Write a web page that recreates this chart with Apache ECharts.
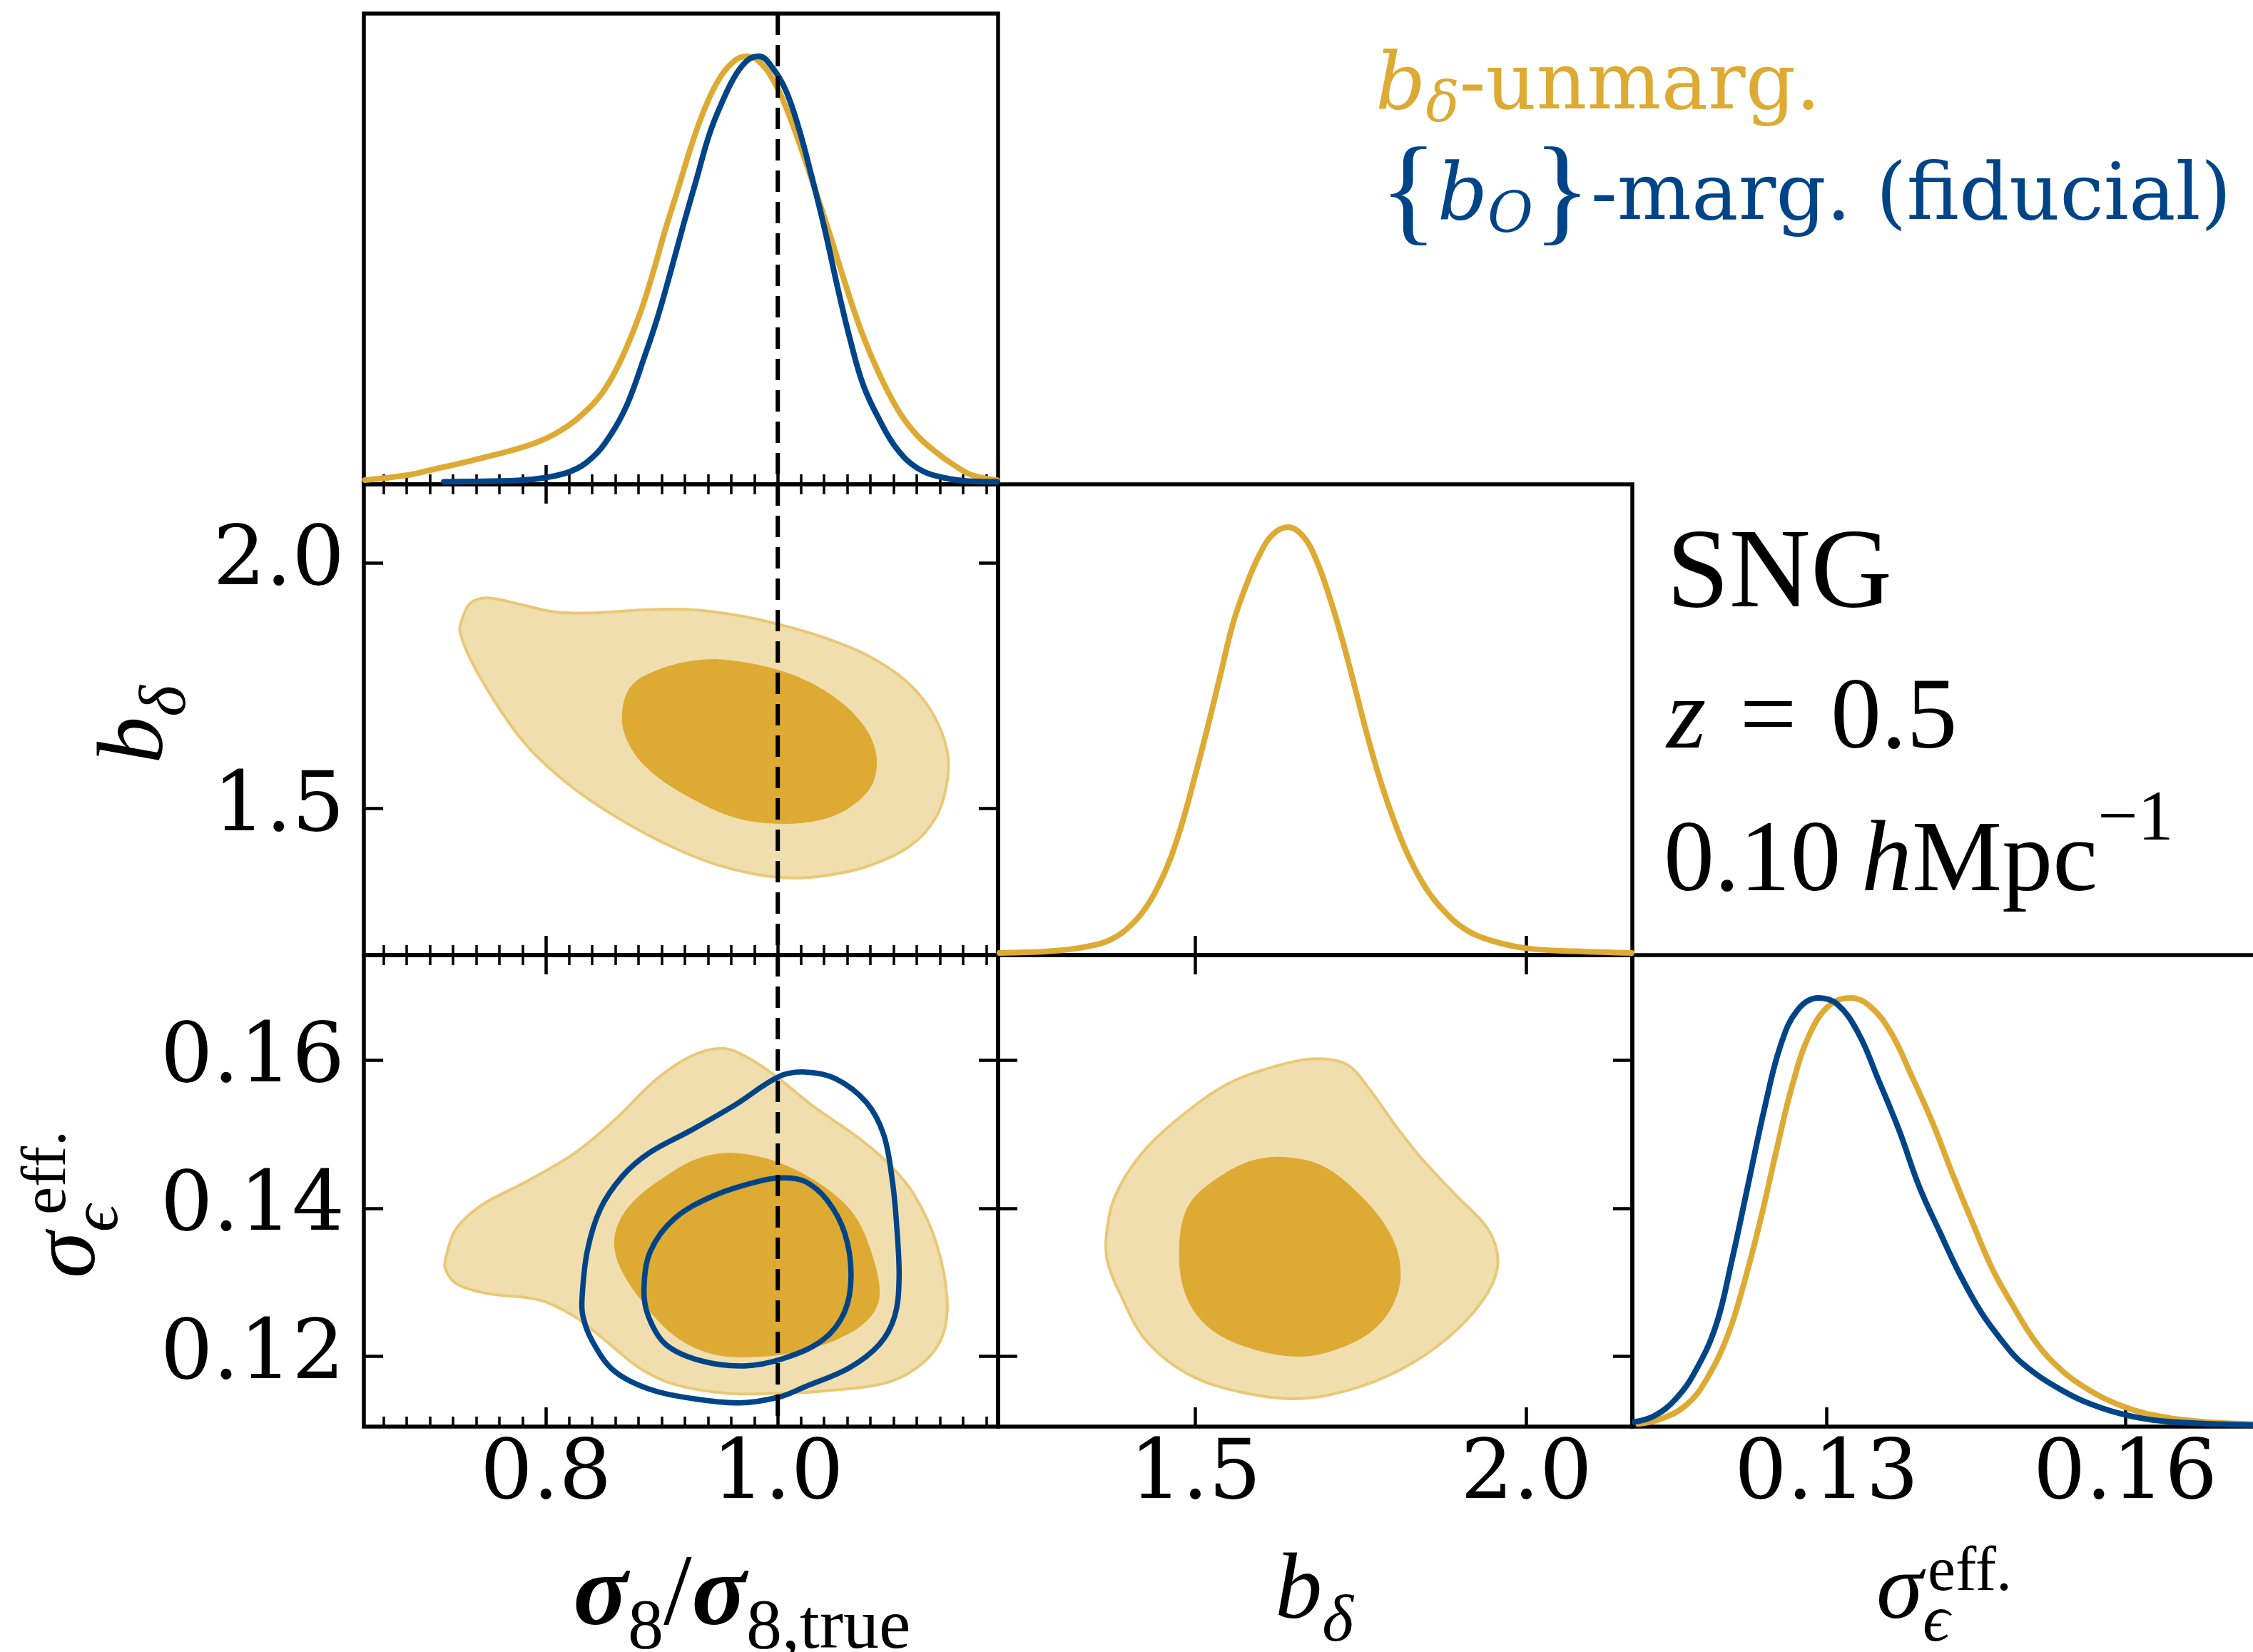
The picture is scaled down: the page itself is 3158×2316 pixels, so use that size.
<!DOCTYPE html>
<html>
<head>
<meta charset="utf-8">
<title>SNG corner plot</title>
<script src="https://cdn.jsdelivr.net/npm/echarts@6/dist/echarts.min.js"></script>
<style>
  html, body { margin: 0; padding: 0; background: #ffffff; }
  #chart { width: 3158px; height: 2316px; }
</style>
</head>
<body>
<div id="chart"></div>
<script>
// ---------------- colours ----------------
const GOLD = '#DDAA33';
const GOLD_LIGHT = '#F1DEAE';
const GOLD_EDGE = '#E9C877';
const BLUE = '#004488';

// ---------------- parameter ranges ----------------
const sigma8Range = [0.643, 1.190];
const bDeltaRange = [1.202, 2.160];
const sigmaEpsRange = [0.1105, 0.1742];
const densityRange = [0, 1.1];
const sigma8True = 1.0;

// ---------------- tick values ----------------
const sigma8Ticks = [0.8, 1.0];
const sigma8MinorTicks = [0.66, 0.68, 0.70, 0.72, 0.74, 0.76, 0.78, 0.82, 0.84, 0.86, 0.88, 0.90,
  0.92, 0.94, 0.96, 0.98, 1.02, 1.04, 1.06, 1.08, 1.10, 1.12, 1.14, 1.16, 1.18];
const bDeltaTicks = [1.5, 2.0];
const sigmaEpsTicksY = [0.12, 0.14, 0.16];
const sigmaEpsTicksX = [0.13, 0.16];

// ---------------- 1D marginals (peak normalised to 1) ----------------
const sigma8Unmarg = [[0.644,0.010],[0.682,0.022],[0.700,0.033],[0.738,0.057],[0.787,0.093],[0.813,0.126],
  [0.836,0.175],[0.851,0.223],[0.866,0.298],[0.881,0.398],[0.892,0.491],[0.903,0.595],[0.915,0.699],
  [0.926,0.796],[0.937,0.878],[0.949,0.945],[0.962,0.988],[0.973,1.000],[0.984,0.988],[0.997,0.940],
  [1.009,0.868],[1.020,0.786],[1.031,0.698],[1.043,0.600],[1.054,0.505],[1.065,0.412],[1.076,0.330],
  [1.091,0.238],[1.106,0.164],[1.121,0.112],[1.137,0.074],[1.152,0.045],[1.167,0.022],[1.189,0.010]];
const sigma8Marg = [[0.712,0.006],[0.776,0.009],[0.798,0.015],[0.821,0.030],[0.839,0.060],[0.855,0.112],
  [0.870,0.186],[0.885,0.298],[0.896,0.387],[0.907,0.491],[0.919,0.610],[0.930,0.714],[0.941,0.818],
  [0.952,0.893],[0.964,0.958],[0.975,0.993],[0.984,1.000],[0.995,0.975],[1.007,0.920],[1.018,0.833],
  [1.029,0.722],[1.041,0.590],[1.052,0.455],[1.063,0.332],[1.074,0.230],[1.088,0.149],[1.103,0.082],
  [1.121,0.037],[1.144,0.015],[1.167,0.007],[1.189,0.006]];
const bDeltaUnmarg = [[1.204,0.005],[1.280,0.009],[1.333,0.019],[1.373,0.037],[1.406,0.075],[1.432,0.127],
  [1.458,0.209],[1.478,0.298],[1.498,0.410],[1.518,0.529],[1.538,0.656],[1.557,0.776],[1.577,0.865],
  [1.597,0.936],[1.617,0.983],[1.640,1.000],[1.663,0.978],[1.683,0.922],[1.703,0.835],[1.723,0.731],
  [1.742,0.619],[1.762,0.500],[1.782,0.395],[1.802,0.306],[1.822,0.231],[1.848,0.157],[1.875,0.104],
  [1.908,0.060],[1.947,0.034],[2.000,0.016],[2.073,0.009],[2.159,0.005]];
const sigmaEpsUnmarg = [[0.1111,0.006],[0.1135,0.019],[0.1160,0.052],[0.1180,0.112],[0.1201,0.214],
  [0.1217,0.333],[0.1234,0.485],[0.1250,0.647],[0.1266,0.799],[0.1283,0.915],[0.1303,0.983],[0.1324,1.000],
  [0.1344,0.980],[0.1365,0.918],[0.1385,0.821],[0.1406,0.712],[0.1426,0.593],[0.1447,0.474],[0.1467,0.366],
  [0.1488,0.279],[0.1508,0.204],[0.1528,0.149],[0.1557,0.095],[0.1598,0.047],[0.1639,0.022],[0.1680,0.011],
  [0.1742,0.005]];
const sigmaEpsMarg = [[0.1107,0.011],[0.1127,0.025],[0.1148,0.063],[0.1168,0.128],[0.1189,0.236],
  [0.1205,0.388],[0.1221,0.561],[0.1238,0.745],[0.1254,0.890],[0.1271,0.972],[0.1292,1.000],
  [0.1311,0.985],[0.1332,0.918],[0.1352,0.810],[0.1373,0.691],[0.1393,0.561],[0.1414,0.453],[0.1434,0.355],
  [0.1455,0.268],[0.1475,0.204],[0.1496,0.149],[0.1537,0.084],[0.1577,0.043],[0.1618,0.019],[0.1659,0.009],
  [0.1742,0.003]];

// ---------------- 2D credible contours (68% inner, 95% outer) ----------------
// sigma8 vs b_delta, b_delta unmarginalised
const s8bdOuter = [[0.7267,1.878],[0.7343,1.917],[0.749,1.929],[0.7756,1.917],[0.8056,1.901],[0.8357,1.898],
  [0.8884,1.905],[0.926,1.905],[0.9636,1.894],[1.0012,1.875],[1.0388,1.849],[1.0764,1.813],[1.110,1.761],
  [1.1328,1.697],[1.146,1.619],[1.146,1.554],[1.1365,1.483],[1.114,1.424],[1.0764,1.382],[1.0388,1.363],
  [1.0124,1.359],[0.9824,1.366],[0.9448,1.388],[0.9072,1.424],[0.8658,1.476],[0.8282,1.534],[0.7981,1.593],
  [0.7756,1.651],[0.753,1.729],[0.7343,1.807],[0.726,1.859]];
const s8bdInner = [[0.8658,1.684],[0.8733,1.748],[0.8959,1.781],[0.926,1.800],[0.956,1.802],[1.0012,1.781],
  [1.0388,1.742],[1.0688,1.684],[1.0839,1.619],[1.082,1.554],[1.0651,1.508],[1.0388,1.479],[1.0012,1.470],
  [0.9636,1.482],[0.926,1.521],[0.8921,1.573],[0.8733,1.625]];

// sigma8 vs sigma_eps, b_delta unmarginalised (filled)
const s8seGoldOuter = [[0.7135,0.1332],[0.7229,0.1373],[0.7455,0.1405],[0.7831,0.1436],[0.8244,0.1474],
  [0.8583,0.1518],[0.8959,0.1575],[0.926,0.1606],[0.9523,0.1616],[0.9748,0.1603],[1.0012,0.1575],
  [1.0312,0.1537],[1.0688,0.1496],[1.0952,0.1461],[1.1177,0.1418],[1.1365,0.1354],[1.146,0.1279],
  [1.1422,0.1228],[1.1252,0.1191],[1.0952,0.1165],[1.0388,0.1153],[1.0012,0.1150],[0.956,0.1150],
  [0.9109,0.1162],[0.8808,0.1184],[0.8508,0.1222],[0.8244,0.1254],[0.7944,0.1276],[0.7493,0.1285],
  [0.7229,0.1298],[0.7135,0.1317]];
const s8seGoldInner = [[0.8602,0.1367],[0.8733,0.1405],[0.9034,0.1443],[0.9335,0.1468],[0.9636,0.1474],
  [1.0012,0.1461],[1.0388,0.1430],[1.0651,0.1392],[1.0801,0.1342],[1.0876,0.1285],[1.0801,0.1254],
  [1.0576,0.1228],[1.0238,0.1209],[0.9861,0.1200],[0.9448,0.1203],[0.9109,0.1228],[0.8808,0.1279],
  [0.862,0.1329]];
// sigma8 vs sigma_eps, {b_O} marginalised (outlines)
const s8seBlueOuter = [[0.8312,0.1279],[0.8357,0.1342],[0.847,0.1399],[0.8658,0.1443],[0.8884,0.1474],
  [0.926,0.1506],[0.9636,0.1540],[1.0012,0.1578],[1.0237,0.1584],[1.05,0.1575],[1.0764,0.1543],
  [1.0914,0.1499],[1.0989,0.1436],[1.1027,0.1373],[1.1046,0.1304],[1.1008,0.1254],[1.0876,0.1216],
  [1.0613,0.1184],[1.0237,0.1159],[1.0012,0.1145],[0.9673,0.1137],[0.926,0.1143],[0.8884,0.1156],
  [0.8583,0.1181],[0.8395,0.1222],[0.832,0.1254]];
const s8seBlueInner = [[0.8846,0.1291],[0.8902,0.1342],[0.9109,0.1386],[0.9448,0.1417],[0.9824,0.1436],
  [1.0049,0.1441],[1.0237,0.1436],[1.0425,0.1411],[1.0576,0.1367],[1.0632,0.1310],[1.0576,0.1260],
  [1.0388,0.1222],[1.0049,0.1197],[0.9711,0.1187],[0.9335,0.1194],[0.9034,0.1216],[0.8884,0.1254]];

// b_delta vs sigma_eps
const bdseOuter = [[1.366,0.1367],[1.379,0.1417],[1.419,0.1474],[1.478,0.1524],[1.551,0.1569],[1.630,0.1594],
  [1.683,0.1602],[1.729,0.1594],[1.762,0.1562],[1.802,0.1512],[1.841,0.1468],[1.894,0.1417],[1.941,0.1373],
  [1.957,0.1329],[1.941,0.1285],[1.894,0.1235],[1.828,0.1191],[1.749,0.1159],[1.663,0.1143],[1.577,0.1150],
  [1.491,0.1175],[1.425,0.1222],[1.386,0.1285],[1.367,0.1329]];
const bdseInner = [[1.476,0.1348],[1.491,0.1405],[1.538,0.1443],[1.590,0.1465],[1.643,0.1468],[1.696,0.1455],
  [1.749,0.1417],[1.789,0.1373],[1.808,0.1329],[1.805,0.1285],[1.775,0.1241],[1.723,0.1213],[1.657,0.1200],
  [1.577,0.1213],[1.518,0.1241],[1.485,0.1285]];

// ---------------- layout ----------------
const SERIF = 'DejaVu Serif';
const MATH = 'Liberation Serif';
const FRAME = 5.5;
const TICK_W = 4.5;
const MAJOR_LEN = 27;
const MINOR_LEN = 14;

const grids = [
  { left: 510,  top: 19,   width: 889, height: 660 },  // sigma8 marginal
  { left: 510,  top: 679,  width: 889, height: 660 },  // sigma8 - b_delta
  { left: 1399, top: 679,  width: 889, height: 660 },  // b_delta marginal
  { left: 510,  top: 1339, width: 889, height: 661 },  // sigma8 - sigma_eps
  { left: 1399, top: 1339, width: 889, height: 661 },  // b_delta - sigma_eps
  { left: 2288, top: 1339, width: 889, height: 661 }   // sigma_eps marginal
].map(g => Object.assign(g, {
  show: true, borderColor: '#000', borderWidth: FRAME, backgroundColor: 'rgba(0,0,0,0)',
  containLabel: false, outerBoundsMode: 'none'
}));

const fmt1 = v => v.toFixed(1);
const fmt2 = v => v.toFixed(2);

function axis(gridIndex, range, position, ticks, len, labelFmt, labelMargin) {
  return {
    type: 'value', gridIndex, position, min: range[0], max: range[1],
    axisLine: { show: false, onZero: false },
    splitLine: { show: false },
    minorTick: { show: false },
    axisTick: { show: true, inside: true, length: len, customValues: ticks,
      lineStyle: { color: '#000', width: len === MINOR_LEN ? 3.5 : TICK_W } },
    axisLabel: labelFmt ? {
      show: true, customValues: ticks, formatter: labelFmt, margin: labelMargin,
      fontFamily: SERIF, fontSize: 116, color: '#000'
    } : { show: false }
  };
}
function hiddenDensity(gridIndex) {
  return { type: 'value', gridIndex, min: densityRange[0], max: densityRange[1], show: false,
    axisLine: { onZero: false }, splitLine: { show: false } };
}

const xAxes = [
  axis(0, sigma8Range, 'bottom', sigma8Ticks, MAJOR_LEN),            // 0
  axis(0, sigma8Range, 'bottom', sigma8MinorTicks, MINOR_LEN),       // 1
  axis(1, sigma8Range, 'bottom', sigma8Ticks, MAJOR_LEN),            // 2
  axis(1, sigma8Range, 'bottom', sigma8MinorTicks, MINOR_LEN),       // 3
  axis(1, sigma8Range, 'top', sigma8Ticks, MAJOR_LEN),               // 4
  axis(1, sigma8Range, 'top', sigma8MinorTicks, MINOR_LEN),          // 5
  axis(2, bDeltaRange, 'bottom', bDeltaTicks, MAJOR_LEN),            // 6
  axis(3, sigma8Range, 'bottom', sigma8Ticks, MAJOR_LEN, fmt1, 12),  // 7
  axis(3, sigma8Range, 'bottom', sigma8MinorTicks, MINOR_LEN),       // 8
  axis(3, sigma8Range, 'top', sigma8Ticks, MAJOR_LEN),               // 9
  axis(3, sigma8Range, 'top', sigma8MinorTicks, MINOR_LEN),          // 10
  axis(4, bDeltaRange, 'bottom', bDeltaTicks, MAJOR_LEN, fmt1, 12),  // 11
  axis(4, bDeltaRange, 'top', bDeltaTicks, MAJOR_LEN),               // 12
  axis(5, sigmaEpsRange, 'bottom', sigmaEpsTicksX, MAJOR_LEN, fmt2, 12) // 13
];
const yAxes = [
  hiddenDensity(0),                                                    // 0
  axis(1, bDeltaRange, 'left', bDeltaTicks, MAJOR_LEN, fmt1, 27),      // 1
  axis(1, bDeltaRange, 'right', bDeltaTicks, MAJOR_LEN),               // 2
  hiddenDensity(2),                                                    // 3
  axis(3, sigmaEpsRange, 'left', sigmaEpsTicksY, MAJOR_LEN, fmt2, 27), // 4
  axis(3, sigmaEpsRange, 'right', sigmaEpsTicksY, MAJOR_LEN),          // 5
  axis(4, sigmaEpsRange, 'left', sigmaEpsTicksY, MAJOR_LEN),           // 6
  axis(4, sigmaEpsRange, 'right', sigmaEpsTicksY, MAJOR_LEN),          // 7
  hiddenDensity(5)                                                     // 8
];

// ---------------- series builders ----------------
function curve(xi, yi, pts, color, z) {
  return { type: 'line', xAxisIndex: xi, yAxisIndex: yi, data: pts, symbol: 'none', showSymbol: false,
    smooth: 0.4, silent: true, z, lineStyle: { color, width: 8, cap: 'round', join: 'round' } };
}
function region(xi, yi, pts, fill, stroke, lineWidth, z) {
  return {
    type: 'custom', xAxisIndex: xi, yAxisIndex: yi, silent: true, z, clip: true,
    data: [pts[0]],
    renderItem: (params, api) => ({
      type: 'polygon',
      shape: { points: pts.map(p => api.coord(p)), smooth: 0.35 },
      style: { fill, stroke, lineWidth, lineJoin: 'round' }
    })
  };
}
function truthLine(xi, yi, range) {
  return { type: 'line', xAxisIndex: xi, yAxisIndex: yi, symbol: 'none', silent: true, z: 20,
    data: [[sigma8True, range[1]], [sigma8True, range[0]]],
    lineStyle: { color: '#000', width: 6, type: [30, 14] } };
}

const series = [
  // sigma8 marginal
  curve(0, 0, sigma8Unmarg, GOLD, 3),
  curve(0, 0, sigma8Marg, BLUE, 4),
  truthLine(0, 0, densityRange),
  // sigma8 - b_delta
  region(2, 1, s8bdOuter, GOLD_LIGHT, GOLD_EDGE, 4, 2),
  region(2, 1, s8bdInner, GOLD, GOLD, 1, 3),
  truthLine(2, 1, bDeltaRange),
  // b_delta marginal
  curve(6, 3, bDeltaUnmarg, GOLD, 3),
  // sigma8 - sigma_eps
  region(7, 4, s8seGoldOuter, GOLD_LIGHT, GOLD_EDGE, 4, 2),
  region(7, 4, s8seGoldInner, GOLD, GOLD, 1, 3),
  region(7, 4, s8seBlueOuter, 'none', BLUE, 7.5, 5),
  region(7, 4, s8seBlueInner, 'none', BLUE, 7.5, 5),
  truthLine(7, 4, sigmaEpsRange),
  // b_delta - sigma_eps
  region(11, 6, bdseOuter, GOLD_LIGHT, GOLD_EDGE, 4, 2),
  region(11, 6, bdseInner, GOLD, GOLD, 1, 3),
  // sigma_eps marginal
  curve(13, 8, sigmaEpsUnmarg, GOLD, 3),
  curve(13, 8, sigmaEpsMarg, BLUE, 4)
];

// ---------------- labels and annotations ----------------
const nameRich = {
  i:  { fontFamily: MATH, fontStyle: 'italic', fontSize: 132 },
  r:  { fontFamily: MATH, fontSize: 132 },
  s:  { fontFamily: MATH, fontSize: 94, padding: [84, 0, 0, 0] },
  si: { fontFamily: MATH, fontStyle: 'italic', fontSize: 94, padding: [84, 0, 0, 0] }
};
const bigNameRich = {
  i:  { fontFamily: MATH, fontStyle: 'italic', fontWeight: 'bold', fontSize: 142 },
  r:  { fontFamily: MATH, fontSize: 142 },
  s:  { fontFamily: MATH, fontSize: 100, padding: [88, 0, 0, 0] }
};
function label(x, y, text, opts) {
  opts = opts || {};
  return {
    type: 'text', x, y, rotation: opts.rotation || 0, silent: true, z: 50,
    style: {
      text, rich: opts.rich || nameRich, fill: opts.fill || '#000',
      fontFamily: opts.fontFamily || MATH, fontSize: opts.fontSize || 132,
      fontStyle: opts.fontStyle || 'normal',
      align: opts.align || 'center', verticalAlign: 'middle'
    }
  };
}

const legendRich = {
  bi:  { fontFamily: SERIF, fontStyle: 'italic', fontSize: 110 },
  sub: { fontFamily: SERIF, fontStyle: 'italic', fontSize: 78, padding: [54, 0, 0, 0] },
  t:   { fontFamily: SERIF, fontSize: 110 }
};
const noteRich = {
  t:   { fontFamily: MATH, fontSize: 142 },
  i:   { fontFamily: MATH, fontStyle: 'italic', fontSize: 142 },
  sup: { fontFamily: MATH, fontSize: 100, padding: [0, 0, 120, 0] }
};

const graphic = [
  // axis titles
  label(1040, 2240, '{i|σ}{s|8}{r|/}{i|σ}{s|8,true}', { rich: bigNameRich, fontSize: 142 }),
  label(1842, 2233, '{i|b}{si|δ}'),
  label(2630, 2233, '{i|σ}{si|ϵ}', { align: 'left' }),
  label(2702, 2206, 'eff.', { fontSize: 88, align: 'left' }),
  label(192, 1016, '{i|b}{si|δ}', { rotation: Math.PI / 2 }),
  label(97, 1792, '{i|σ}{si|ϵ}', { rotation: Math.PI / 2, align: 'left' }),
  label(68, 1703, 'eff.', { rotation: Math.PI / 2, fontSize: 88, align: 'left' }),
  // legend
  label(1928, 123, '{bi|b}{sub|δ}{t|-unmarg.}', { rich: legendRich, fill: GOLD, align: 'left', fontFamily: SERIF, fontSize: 110 }),
  label(1934, 278, '{{bi|b}{sub|O}}{t|-marg. (fiducial)}', { rich: legendRich, fill: BLUE, align: 'left', fontFamily: MATH, fontSize: 168 }),
  // sample description
  label(2336, 808, 'SNG', { align: 'left', fontFamily: MATH, fontSize: 158 }),
  label(2336, 1011, '{i|z}{t|\u2004=\u20040.5}', { rich: noteRich, align: 'left' }),
  label(2332, 1211, '{t|0.10\u2009}{i|h}{t|Mpc}{sup|\u22121}', { rich: noteRich, align: 'left' })
];

const chart = echarts.init(document.getElementById('chart'), null, { renderer: 'canvas', width: 3158, height: 2316 });
chart.setOption({
  animation: false,
  backgroundColor: '#ffffff',
  grid: grids,
  xAxis: xAxes,
  yAxis: yAxes,
  series,
  graphic
});
</script>
</body>
</html>
